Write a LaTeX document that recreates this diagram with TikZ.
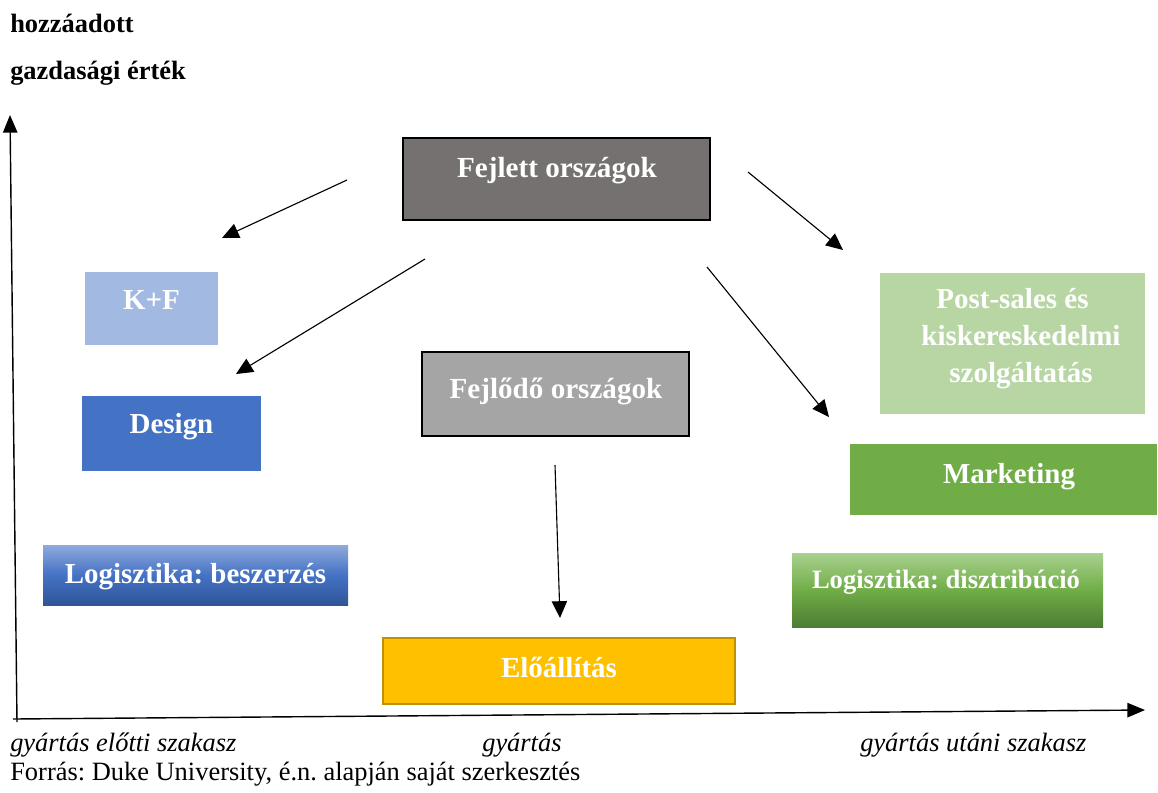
\documentclass[tikz,border=0pt]{standalone}
\usepackage{fontspec}
\setmainfont{Liberation Serif}
\frenchspacing
\usetikzlibrary{arrows.meta}
\def\pxu{0.025cm}
\definecolor{fejlettgray}{HTML}{767171}
\definecolor{fejlodogray}{HTML}{A5A5A5}
\definecolor{kfblue}{HTML}{A2B9E1}
\definecolor{designblue}{HTML}{4472C4}
\definecolor{darkblue}{HTML}{2F5597}
\definecolor{lightblue}{HTML}{8FAADC}
\definecolor{postgreen}{HTML}{B8D6A4}
\definecolor{mktgreen}{HTML}{70AD47}
\definecolor{lightgreen}{HTML}{A9D18E}
\definecolor{darkgreen}{HTML}{4E7D33}
\definecolor{eloyellow}{HTML}{FFC000}
\definecolor{elogold}{HTML}{BF9000}
\tikzset{
  box/.style={rectangle, inner sep=0pt},
  boxtext/.style={anchor=base, text=white, inner sep=0pt, font=\bfseries\fontsize{20.6pt}{26pt}\selectfont},
  axistext/.style={anchor=base west, inner sep=0pt, font=\fontsize{18.8pt}{22pt}\selectfont},
  arr/.style={line width=0.8pt, -{Triangle[length=0.42cm,width=0.38cm]}},
  axis/.style={line width=1pt, -{Triangle[length=0.44cm,width=0.36cm]}}
}
\begin{document}
\begin{tikzpicture}[x=\pxu, y=-\pxu]
		%%%%% START %%%%%
		\useasboundingbox (0,0) rectangle (1158,792);
		
		% axes
		\coordinate (origo) at (17,722);
		\coordinate (ytop) at (10,115);
		\coordinate (xend) at (1145,710);
		\draw[axis] (origo) -- (ytop);
		\draw[axis] (13,719) -- (xend);
		
		\node[axistext, font=\bfseries\fontsize{18.8pt}{22pt}\selectfont] (ylab1) at (10,32) {hozzáadott};
		\node[axistext, font=\bfseries\fontsize{18.8pt}{22pt}\selectfont] (ylab2) at (10,79) {gazdasági érték};
		
		\node[axistext, font=\itshape\fontsize{18.8pt}{22pt}\selectfont] (xlab1) at (10,751) {gyártás előtti szakasz};
		\node[axistext, font=\itshape\fontsize{18.8pt}{22pt}\selectfont] (xlab2) at (482,751) {gyártás};
		\node[axistext, font=\itshape\fontsize{18.8pt}{22pt}\selectfont] (xlab3) at (860,751) {gyártás utáni szakasz};
		\node[axistext] (forras) at (10,780) {Forrás: Duke University, é.n. alapján saját szerkesztés};
		
		% countries
		\node[box, draw=black, line width=1.7pt, fill=fejlettgray, minimum width=307*\pxu, minimum height=82*\pxu] (fejlett) at (556.5,179) {};
		\node[boxtext, font=\bfseries\fontsize{20.7pt}{24pt}\selectfont] (fejletttxt) at (557,177) {Fejlett országok};
		
		\node[box, draw=black, line width=1.7pt, fill=fejlodogray, minimum width=267*\pxu, minimum height=84*\pxu] (fejlodo) at (555.5,394) {};
		\node[boxtext, font=\bfseries\fontsize{20.7pt}{24pt}\selectfont] (fejlodotxt) at (556,398) {Fejlődő országok};
		
		% pre-production
		\node[box, fill=kfblue, minimum width=133*\pxu, minimum height=73*\pxu] (kf) at (151.5,308.5) {};
		\node[boxtext] (kftxt) at (151.5,309) {K+F};
		
		\node[box, fill=designblue, minimum width=179*\pxu, minimum height=75*\pxu] (design) at (171.5,433.5) {};
		\node[boxtext] (designtxt) at (171.5,433) {Design};
		
		\node[box, top color=lightblue, bottom color=darkblue, middle color=designblue, minimum width=305*\pxu, minimum height=60*\pxu] (beszerzes) at (195.5,575) {};
		\node[boxtext] (beszerzestxt) at (195.5,583) {Logisztika: beszerzés};
		
		% production
		\node[box, draw=elogold, line width=2pt, fill=eloyellow, minimum width=352*\pxu, minimum height=66*\pxu] (eloallitas) at (559,671) {};
		\node[boxtext] (eloallitastxt) at (559,677) {Előállítás};
		
		% post-production
		\node[box, fill=postgreen, minimum width=265*\pxu, minimum height=141*\pxu] (postsales) at (1012.5,343.5) {};
		\node[boxtext] (posttxt1) at (1012.5,308) {Post-sales és};
		\node[boxtext] (posttxt2) at (1021,345) {kiskereskedelmi};
		\node[boxtext] (posttxt3) at (1021,382) {szolgáltatás};
		
		\node[box, fill=mktgreen, minimum width=307*\pxu, minimum height=71*\pxu] (marketing) at (1003.5,479.5) {};
		\node[boxtext] (marketingtxt) at (1009,483) {Marketing};
		
		\node[box, top color=lightgreen, bottom color=darkgreen, middle color=mktgreen, minimum width=311*\pxu, minimum height=74*\pxu] (disztribucio) at (947.5,590) {};
		\node[boxtext, font=\bfseries\fontsize{18.9pt}{24pt}\selectfont] (disztribuciotxt) at (946,588) {Logisztika: disztribúció};
		
		% arrows
		\coordinate (kfs) at (347,180);
		\coordinate (kfe) at (222,238);
		\coordinate (designs) at (425,259);
		\coordinate (designe) at (236,374);
		\coordinate (posts) at (748,172);
		\coordinate (poste) at (843,250);
		\coordinate (mkts) at (707,267);
		\coordinate (mkte) at (829,417);
		\coordinate (elos) at (555,465);
		\coordinate (eloe) at (560,618);
		
		\draw[arr] (kfs) -- (kfe);
		\draw[arr] (designs) -- (designe);
		\draw[arr] (posts) -- (poste);
		\draw[arr] (mkts) -- (mkte);
		\draw[arr] (elos) -- (eloe);
		
		%%%%% END %%%%%
	\end{tikzpicture}
\end{document}
